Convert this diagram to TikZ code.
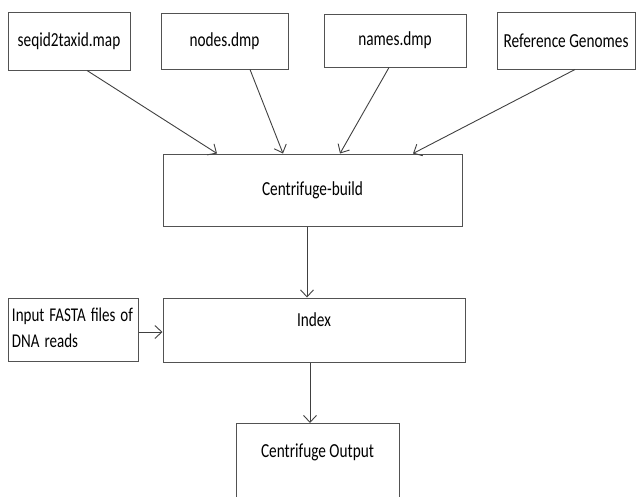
\documentclass[tikz,border=0pt]{standalone}
\usepackage{fontspec}
\setmainfont{Carlito}
\usepackage{graphicx}
\usetikzlibrary{arrows.meta,positioning}

% the letters of the reference are drawn a bit taller than wide
\newcommand{\tallText}[1]{\scalebox{1}[1.3]{#1}}

\begin{document}
\begin{tikzpicture}[x=1pt, y=-1pt,
    >={Straight Barb[length=7pt,width=13pt]},
    box/.style={draw=black!68, line width=1pt, inner sep=0pt,
      font=\fontsize{15.3}{19.2}\selectfont},
    flow/.style={->, draw=black!75, line width=0.9pt}]
  \useasboundingbox (0,0) rectangle (637,496);
  \clip (0,0) rectangle (637,496);
  % input files
  \node[box, minimum width=122pt, minimum height=58pt] (seqid) at (69,41)
    {\tallText{seqid2taxid.map}};
  \node[box, minimum width=127pt, minimum height=56pt] (nodes) at (224.5,41)
    {\tallText{nodes.dmp}};
  \node[box, minimum width=142pt, minimum height=53pt] (names) at (395,40.5)
    {\tallText{names.dmp}};
  \node[box, minimum width=138pt, minimum height=57pt] (refgen) at (566,40.5)
    {\tallText{Reference Genomes}};
  % build step
  \node[box, minimum width=299pt, minimum height=72pt] (build) at (312.5,190)
    {\tallText{Centrifuge-build}};
  \draw[flow] ([xshift=18pt]seqid.south) -- ([xshift=-95.5pt]build.north);
  \draw[flow] ([xshift=25.5pt]nodes.south) -- ([xshift=-29.5pt]build.north);
  \draw[flow] ([xshift=-6pt]names.south) -- ([xshift=27.5pt]build.north);
  \draw[flow] ([xshift=9pt]refgen.south) -- ([xshift=100.5pt]build.north);
  % index and reads
  \node[box, minimum width=302pt, text height=28.5pt, text depth=35.5pt] (index) at (314,330)
    {\tallText{Index}};
  \node[box, minimum width=130pt, minimum height=63pt, inner xsep=4pt,
    text width=122pt, align=left, font=\fontsize{15}{19.6}\selectfont] (fasta) at (73,329.5)
    {\tallText{\begin{tabular}{@{}l@{}}Input FASTA files of\\DNA reads\end{tabular}}};
  \draw[flow] ([xshift=-5.5pt]build.south) -- ([xshift=-7pt]index.north);
  \draw[flow] ([yshift=-2.5pt]fasta.east) -- ([yshift=-2pt]index.west);
  % output
  \node[box, minimum width=163pt, text height=34pt, text depth=60pt, anchor=north] (output)
    at (317.5,423) {\tallText{Centrifuge Output}};
  \draw[flow] ([xshift=-4pt]index.south) -- ([xshift=-7.5pt]output.north);
\end{tikzpicture}
\end{document}
